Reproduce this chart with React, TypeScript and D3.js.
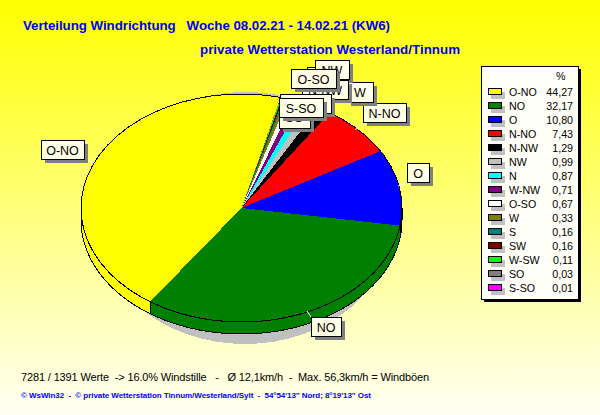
import * as d3 from "d3";

const categories = ["O-NO", "NO", "O", "N-NO", "N-NW", "NW", "N", "W-NW", "O-SO", "W", "S", "SW", "W-SW", "SO", "S-SO"];
const percents = [44.27, 32.17, 10.8, 7.43, 1.29, 0.99, 0.87, 0.71, 0.67, 0.33, 0.16, 0.16, 0.11, 0.03, 0.01];
const percentLabels = ["44,27", "32,17", "10,80", "7,43", "1,29", "0,99", "0,87", "0,71", "0,67", "0,33", "0,16", "0,16", "0,11", "0,03", "0,01"];
const colors = ["#ffff00", "#008000", "#0000ff", "#ff0000", "#000000", "#c0c0c0", "#00ffff", "#800080", "#ffffff", "#808000", "#008080", "#800000", "#00ff00", "#808080", "#ff00ff"];

// callouts in paint order: [name, left, top, right, bottom]
const callouts: [string, number, number, number, number][] = [
  ["O-NO", 41, 140, 84, 159],
  ["NO", 311, 317, 341, 336],
  ["O", 407, 163, 429, 182],
  ["N-NO", 363, 103, 406, 122],
  ["W", 347, 82, 373, 102],
  ["N", 307, 67, 340, 86],
  ["NW", 315, 60, 349, 79],
  ["N-NW", 302, 80, 348, 99],
  ["SO", 279, 105, 310, 128],
  ["W-NW", 280, 94, 331, 113],
  ["O-SO", 291, 69, 336, 88],
  ["S-SO", 279, 98, 323, 117],
];
// white leader lines: [x1, y1, x2, y2]
const leaders = [
  [88, 160, 94, 163],
  [398, 186, 407, 183],
  [307, 311, 311, 317],
  [355, 130, 363, 123],
  [288, 93, 291, 88],
];

const width = 600;
const height = 415;
const cx = 241.5;
const cy = 208;
const rx = 160.5;
const ry = 114;
const depth = 12;
const startDeg = 14.1;

const font = "'Liberation Sans', Arial, sans-serif";

export default function App() {
  const start = (startDeg * Math.PI) / 180;
  const pie = d3
    .pie<number>()
    .sort(null)
    .startAngle(start)
    .endAngle(start - 2 * Math.PI);
  const slices = pie(percents);

  const arc = d3.arc<d3.PieArcDatum<number>>().innerRadius(0).outerRadius(rx);

  // point on the rim, d3 angle convention (0 = up, clockwise)
  const px = (a: number) => cx + rx * Math.sin(a);
  const py = (a: number) => cy - ry * Math.cos(a);

  // Side wall of each slice, only where it faces the viewer
  const low = Math.PI / 2;
  const high = (3 * Math.PI) / 2;
  const norm = (a: number) => (a < 0 ? a + 2 * Math.PI : a);
  const walls = slices.map((s, i) => {
    const a0 = norm(s.endAngle);
    const a1 = norm(s.startAngle) <= a0 ? norm(s.startAngle) + 2 * Math.PI : norm(s.startAngle);
    const from = Math.max(a0, low);
    const to = Math.min(a1, high);
    if (to <= from) return null;
    const steps = d3.range(0, 41).map((k) => from + ((to - from) * k) / 40);
    const top = steps.map((a) => [px(a), py(a)] as [number, number]);
    const bottom = steps.map((a) => [px(a), py(a) + depth] as [number, number]).reverse();
    return { i, d: d3.line()([...top, ...bottom])! + "Z" };
  });

  const rowY = d3.scalePoint<string>().domain(categories).range([92, 288]);

  return (
    <svg
      width={width}
      height={height}
      style={{ position: "fixed", left: 0, top: 0 }}
      fontFamily={font}
    >
      <defs>
        <linearGradient id="bg" x1="0" y1="0" x2="0" y2="1">
          <stop offset="0" stopColor="#ffff00" />
          <stop offset="1" stopColor="#fffff4" />
        </linearGradient>
      </defs>
      <rect width={width} height={height} fill="url(#bg)" />

      <text x={23} y={30} fontSize={13.33} fontWeight="bold" fill="#0000ff" textLength={367} style={{ whiteSpace: "pre" }}>
        {"Verteilung Windrichtung   Woche 08.02.21 - 14.02.21 (KW6)"}
      </text>
      <text x={200} y={54} fontSize={13.33} fontWeight="bold" fill="#0000ff" textLength={260}>
        private Wetterstation Westerland/Tinnum
      </text>

      {/* shadow */}
      <ellipse cx={245} cy={218} rx={150} ry={126} fill="#c0c0c0" shapeRendering="crispEdges" />

      {/* side wall */}
      <g shapeRendering="crispEdges">
        {walls.map((w) => w && <path key={w.i} d={w.d} fill={colors[w.i]} stroke="#000" strokeWidth={1} />)}
      </g>

      {/* top face */}
      <g transform={`translate(${cx},${cy}) scale(1,${ry / rx})`} shapeRendering="crispEdges">
        {slices.map((s, i) => (
          <path key={categories[i]} d={arc(s)!} fill={colors[i]} stroke="none" />
        ))}
        <ellipse rx={rx} ry={rx} fill="none" stroke="#000" strokeWidth={1} vectorEffect="non-scaling-stroke" />
      </g>

      {/* leaders */}
      {leaders.map((l, i) => (
        <line key={i} x1={l[0]} y1={l[1]} x2={l[2]} y2={l[3]} stroke="#fff" />
      ))}

      {/* callouts */}
      {callouts.map(([name, l, t, r, b]) => (
        <g key={name} shapeRendering="crispEdges">
          <rect x={l + 4} y={t + 4} width={r - l} height={b - t} fill="#808080" />
          <rect x={l + 0.5} y={t + 0.5} width={r - l} height={b - t} fill="#ffffe8" stroke="#000" />
          <text x={(l + r) / 2} y={(t + b) / 2 + 5} textAnchor="middle" fontSize={12.5} fill="#000">
            {name}
          </text>
        </g>
      ))}

      {/* legend */}
      <g>
        <rect x={484} y={69} width={97} height={233} fill="#000" shapeRendering="crispEdges" />
        <rect x={481.5} y={66.5} width={97} height={233} fill="#fffff8" stroke="#000" shapeRendering="crispEdges" />
        <text x={556} y={80} fontSize={10.67} fill="#000">
          %
        </text>
        {categories.map((c, i) => {
          const y = rowY(c)!;
          return (
            <g key={c}>
              <rect x={491} y={y} width={14} height={7} fill="#c0c0c0" shapeRendering="crispEdges" />
              <rect x={488.5} y={y - 3.5} width={13} height={6} fill={colors[i]} stroke="#000" shapeRendering="crispEdges" />
              <text x={509} y={y + 4} fontSize={10.67} fill="#000">
                {c}
              </text>
              <text x={573} y={y + 4} fontSize={10.67} textAnchor="end" fill="#000">
                {percentLabels[i]}
              </text>
            </g>
          );
        })}
      </g>

      <text x={21} y={381} fontSize={11} fill="#000" textLength={408} style={{ whiteSpace: "pre" }}>
        {"7281 / 1391 Werte  -> 16.0% Windstille   -   Ø 12,1km/h  -  Max. 56,3km/h = Windböen"}
      </text>
      <text x={21} y={398} fontSize={8} fontWeight="bold" fill="#0000ff" textLength={350} style={{ whiteSpace: "pre" }}>
        {"© WsWin32  -  © private Wetterstation Tinnum/Westerland/Sylt  -  54°54'13\" Nord; 8°19'13\" Ost"}
      </text>
    </svg>
  );
}
